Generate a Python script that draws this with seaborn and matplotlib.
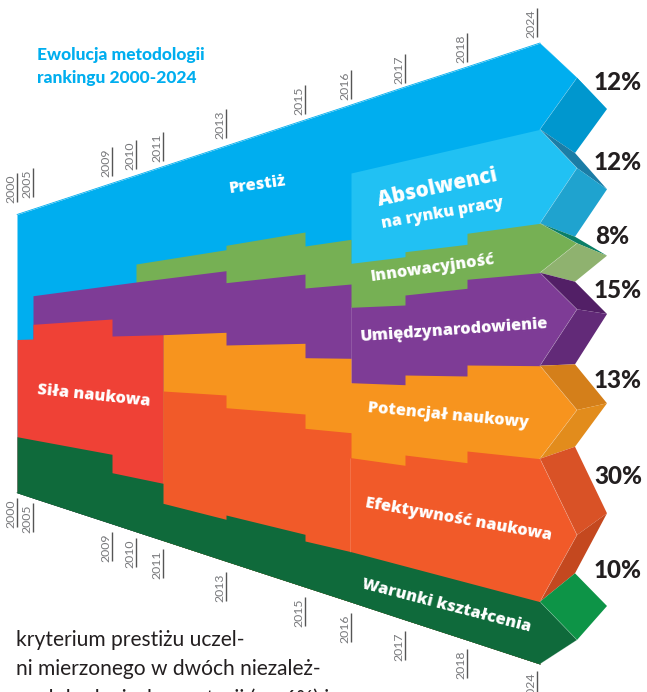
import matplotlib
matplotlib.use('Agg')
import matplotlib.pyplot as plt
import seaborn as sns
import numpy as np

# Years on the ribbon, and where each one sits along the horizontal
years = [2000, 2005, 2009, 2010, 2011, 2013, 2015, 2016, 2017, 2018, 2024]
year_x = [17, 33, 112, 136, 163, 226, 305, 351, 405, 467, 540]

n = np.nan
# Upper edge of each band, one (start, end) pair per period between two years
# in picture units (y grows downwards)
prestiz = [214.5, 209.3, 209.3, 183.3, 183.3, 175.5, 175.5, 166.6, 166.6, 146,
           146, 120, 120, 105, 105, 87, 87, 67, 67, 43]
absolwenci = [n, n, n, n, n, n, n, n, n, n,
              n, n, n, n, 173, 160.5, 160.5, 146.2, 146.2, 129.3]
innowacyjnosc = [n, n, n, n, n, n, 264, 259.7, 259.7, 249.7,
                 245.3, 232, 246, 239.3, 263.3, 256.7, 251.7, 244.3, 233.3, 223.3]
umiedzynar = [n, n, 295.7, 285.2, 285.2, 282, 282, 278.6, 278.6, 270.7,
              282.7, 274, 288, 284, 307.3, 305, 295, 288.3, 279.3, 272.7]
sila = [339.5, 339, 324.3, 319, 336, 335.4, 335.4, 334.7, n, n,
        n, n, n, n, n, n, n, n, n, n]
potencjal = [n, n, n, n, n, n, n, n, 334.7, 332.3,
             345, 343.3, 357.7, 358.3, 382.7, 384.7, 375, 376, 365, 365.7]
efektywnosc = [n, n, n, n, n, n, n, n, 391, 395,
               407.7, 414, 428.3, 432.7, 457.7, 465.3, 455, 462.7, 451, 458.7]
warunki = [436.7, 439.7, 439.7, 454.3, 472.7, 477.7, 477.7, 483.3, 503.3, 519.3,
           515, 534.3, 541, 551.7, 551.7, 566, 566, 582.4, 582.4, 601.7]
bottom = [492.7, 498, 498, 523.8, 523.8, 531.7, 531.7, 540.5, 540.5, 561.2,
          561.2, 587, 587, 602, 602, 619.8, 619.8, 640, 640, 664]

band_tops = [prestiz, absolwenci, innowacyjnosc, umiedzynar, sila, potencjal, efektywnosc, warunki]
band_colors = ['#00AEEF', '#21C1F3', '#76B054', '#7E3C96',
               '#EF4136', '#F7941E', '#F15A29', '#0F6A3B']

# Arrow heads, from the 2024 edge out to the tip, top to bottom
shares = ['12%', '12%', '8%', '15%', '13%', '30%', '10%']
share_y = [83, 163, 236, 291, 380, 477, 571]
edge_2024 = [43, 129.3, 223.3, 272.7, 365.7, 458.7, 601.7, 664]
fold_y = [77.7, 168, 243.3, 309.3, 410, 535, 640]
tip_y = [109, 189.3, 255.7, 314, 403.3, 513.3, 606]
back_y = [77.7, 153, 236.7, 281.7, 364.3, 446.7, 573.3, 640]
front_colors = ['#00AEEF', '#21C1F3', '#76B054', '#7E3C96', '#F7941E', '#F15A29', '#0F6A3B']
upper_colors = ['#00AEEF', '#1B7DA6', '#0B7F66', '#521F66', '#D47F1A', '#D95226', '#0D9447']
lower_colors = ['#0097CE', '#1FA3CF', '#8FB26F', '#622A78', '#E28C1C', '#C4481F', None]

# Year marks above and below the ribbon (upper end of each mark)
mark_x = [17, 33, 112, 136, 163, 226, 305, 351, 405, 467, 537]
marks_top = [173, 168, 147, 140, 132, 109, 85, 70, 54, 33, 8]
marks_low = [498, 503, 532, 538, 549, 572, 597, 613, 631, 649, 671]

sns.set_theme(style='white')
plt.rcParams['font.family'] = ['Open Sans', 'DejaVu Sans']

fig = plt.figure(figsize=(6.47, 6.92), dpi=100)
ax = fig.add_axes([0, 0, 1, 1])
ax.set_xlim(0, 647)
ax.set_ylim(692, 0)
ax.axis('off')

# one x value per pair, so steps at a year come out as vertical edges
xs = np.array([year_x[i // 2 + i % 2] for i in range(20)], dtype=float)

# bands are painted top to bottom, each one down to the ribbon's lower edge
for top, color in zip(band_tops, band_colors):
    ax.fill_between(xs, top, bottom, where=~np.isnan(np.array(top, dtype=float)),
                    color=color, lw=0, zorder=2)

sns.lineplot(x=xs, y=prestiz, color=band_colors[0], lw=0.6, ax=ax, zorder=2, estimator=None, sort=False)
sns.lineplot(x=xs, y=bottom, color=band_colors[-1], lw=0.6, ax=ax, zorder=2, estimator=None, sort=False)

# arrow heads
fold_x, tip_x, back_x = 577, 607, 575
for i in range(7):
    ax.fill([year_x[-1], fold_x, year_x[-1]], [edge_2024[i], fold_y[i], edge_2024[i + 1]],
            color=front_colors[i], lw=0, zorder=3)
    ax.fill([year_x[-1], back_x, tip_x, fold_x], [edge_2024[i], back_y[i], tip_y[i], fold_y[i]],
            color=upper_colors[i], lw=0, zorder=3)
    if lower_colors[i]:
        ax.fill([fold_x, tip_x, back_x, year_x[-1]], [fold_y[i], tip_y[i], back_y[i + 1], edge_2024[i + 1]],
                color=lower_colors[i], lw=0, zorder=3)
    ax.plot([year_x[-1], fold_x, year_x[-1]], [edge_2024[i], fold_y[i], edge_2024[i + 1]],
            color='white', alpha=0.25, lw=0.5, zorder=4)
    ax.text(642 if shares[i] != '8%' else 629, share_y[i], shares[i], ha='right', va='center',
            fontsize=17.5, fontweight=900, family='Lato', color='#231F20')

# faint seams where the methodology changed
ax.vlines(351, 307, 383, color='white', alpha=0.2, lw=0.5, zorder=4)
ax.vlines(350, 458, 552, color='white', alpha=0.2, lw=0.5, zorder=4)

# year marks with rotated labels
for y, x, t, b in zip(years, mark_x, marks_top, marks_low):
    ax.vlines(x, t, t + 29, color='#555555', lw=1, zorder=1)
    ax.vlines(x, b, b + 29, color='#555555', lw=1, zorder=1)
    ax.text(x - 1, t + 30, str(y), rotation=90, ha='right', va='bottom', fontsize=8.8,
            family='Lato', color='#77787B')
    ax.text(x - 1, b + 30, str(y), rotation=90, ha='right', va='bottom', fontsize=8.8,
            family='Lato', color='#77787B', clip_on=True)

ax.text(37, 55, 'Ewolucja metodologii', fontsize=12.5, fontweight=900, family='Lato',
        color='#00AEEF', va='center')
ax.text(37, 78, 'rankingu 2000-2024', fontsize=12.5, fontweight=900, family='Lato',
        color='#00AEEF', va='center')


def label(x, y, s, rot, size=11.7):
    ax.text(x, y, s, ha='center', va='center', rotation=rot, rotation_mode='anchor',
            fontsize=size, fontweight=800, color='white', zorder=5)


label(258, 185, 'Prestiż', 8)
label(437, 188, 'Absolwenci', 12, 14.8)
label(442, 213, 'na rynku pracy', 10, 11.5)
label(433, 268, 'Innowacyjność', 8)
label(454, 330, 'Umiędzynarodowienie', 4)
label(94, 396, 'Siła naukowa', -6)
label(448, 416, 'Potencjał naukowy', -5.4)
label(459, 520, 'Efektywność naukowa', -10)
label(446, 606, 'Warunki kształcenia', -14.5)

# body text cut off by the page edge
ax.text(16, 640, 'kryterium prestiżu uczel-', fontsize=15.1, family='Lato', color='#231F20', va='center')
ax.text(16, 669, 'ni mierzonego w dwóch niezależ-', fontsize=15.1, family='Lato', color='#231F20', va='center')
ax.text(16, 699, 'nych badaniach reputacji (po 6%) i', fontsize=15.1, family='Lato', color='#231F20', va='center')

fig.savefig('out.png', dpi=100)
